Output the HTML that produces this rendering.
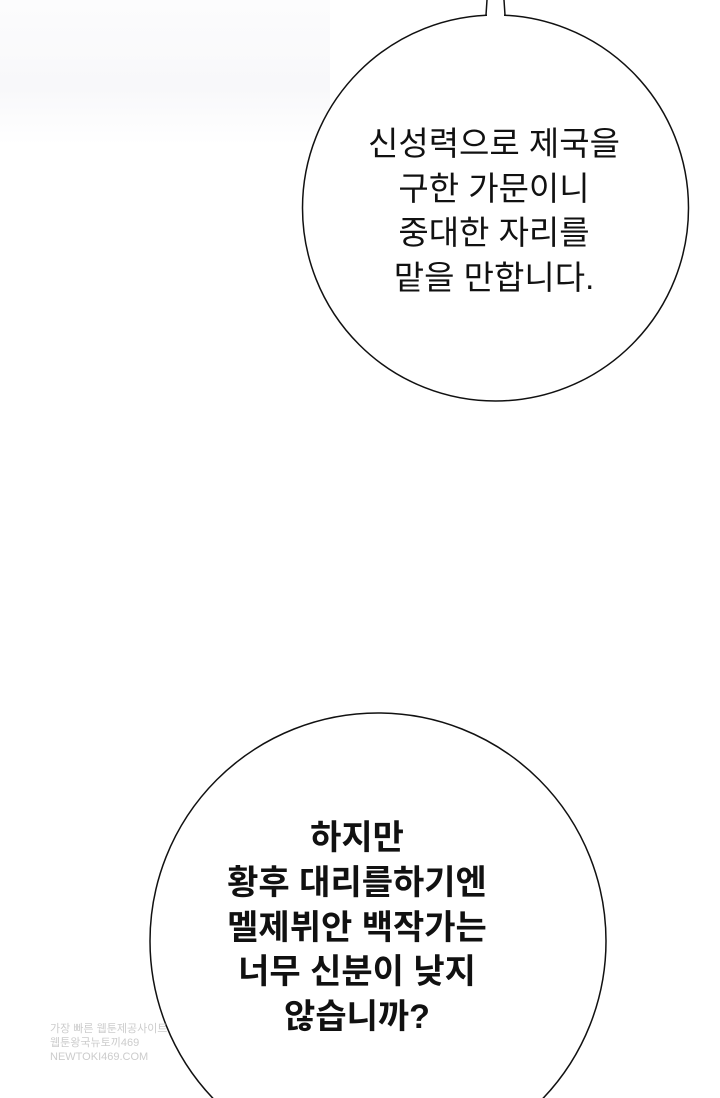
<!DOCTYPE html>
<html><head><meta charset="utf-8">
<style>
html,body{margin:0;padding:0;width:720px;height:1098px;overflow:hidden;}
body{position:relative;background:#fff;font-family:"Liberation Sans","Noto Sans CJK KR","NanumGothic",sans-serif;}
.grad{position:absolute;left:0;top:0;width:330px;height:145px;background:linear-gradient(180deg,#fcfcfd 0%,#f8f8fa 60%,#fff 100%);}
.t{position:absolute;text-align:center;color:#111;white-space:nowrap;}
.t1{left:294px;width:400px;top:122px;font-size:33px;line-height:44.5px;}
.t2{left:157px;width:400px;top:816px;font-size:34px;line-height:44.8px;font-weight:bold;}
.wm{position:absolute;left:50px;top:1022px;font-size:11px;color:#ccc;line-height:14px;}
</style></head><body>
<div class="grad"></div>
<svg width="720" height="1098" style="position:absolute;left:0;top:0">
<circle cx="495.5" cy="208" r="193" fill="#fff" stroke="#111" stroke-width="1.5"/>
<rect x="487" y="0" width="17" height="18" fill="#fff"/>
<path d="M487,0 L486,15 M504,0 L505,15" stroke="#111" stroke-width="1.5" fill="none"/>
<circle cx="378" cy="941" r="228" fill="#fff" stroke="#111" stroke-width="1.5"/>
</svg>
<div class="t t1">신성력으로 제국을<br>구한 가문이니<br>중대한 자리를<br>맡을 만합니다.</div>
<div class="t t2">하지만<br>황후 대리를하기엔<br>멜제뷔안 백작가는<br>너무 신분이 낮지<br>않습니까?</div>
<div class="wm">가장 빠른 웹툰제공사이트<br>웹툰왕국뉴토끼469<br>NEWTOKI469.COM</div>
</body></html>
